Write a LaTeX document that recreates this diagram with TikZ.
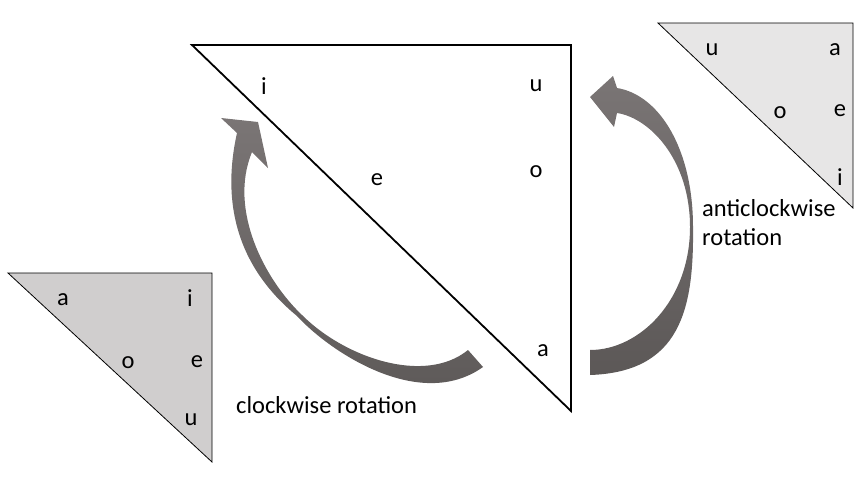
\documentclass[tikz,border=0pt]{standalone}
\usepackage{fontspec}
\setmainfont{Carlito}
\definecolor{lgray}{HTML}{D0CECE}
\definecolor{rgray}{HTML}{E7E6E6}
\definecolor{arrlight}{HTML}{7A7575}
\definecolor{arrdark}{HTML}{5C5857}
\tikzset{
  lbl/.style={font=\fontsize{24.5}{29}\selectfont, inner sep=0pt},
  maintri/.style={draw=black, line width=1.8pt, line join=miter},
  smalltri/.style={draw=black, line width=0.8pt},
  bigarrow/.style={top color=arrlight, bottom color=arrdark, draw=none}
}
\begin{document}
\begin{tikzpicture}[x=1pt,y=-1pt]
\useasboundingbox (0,0) rectangle (867,477);
% main triangle
\coordinate (M1) at (192,45);
\coordinate (M2) at (571,45);
\coordinate (M3) at (571,411);
\draw[maintri] (M1) -- (M2) -- (M3) -- cycle;
% left small triangle
\coordinate (L1) at (8,273);
\coordinate (L2) at (212,273);
\coordinate (L3) at (212,462);
\fill[lgray] (L1) -- (L2) -- (L3) -- cycle;
\draw[smalltri] (L1) -- (L2) -- (L3) -- cycle;
% right small triangle
\coordinate (R1) at (658,23);
\coordinate (R2) at (853,23);
\coordinate (R3) at (853,208);
\fill[rgray] (R1) -- (R2) -- (R3) -- cycle;
\draw[smalltri] (R1) -- (R2) -- (R3) -- cycle;
% main letters
\node[lbl] (mi) at (264,86) {i};
\node[lbl] (mu) at (536,86) {u};
\node[lbl] (me) at (377,180) {e};
\node[lbl] (mo) at (536,172) {o};
\node[lbl] (ma) at (543,351) {a};
% left letters
\node[lbl] (la) at (63,300) {a};
\node[lbl] (li) at (190,298) {i};
\node[lbl] (lo) at (128,363) {o};
\node[lbl] (le) at (197,362) {e};
\node[lbl] (lu) at (191,420) {u};
% right letters
\node[lbl] (ru) at (712,50) {u};
\node[lbl] (ra) at (835,50) {a};
\node[lbl] (ro) at (780,113) {o};
\node[lbl] (re) at (840,111) {e};
\node[lbl] (ri) at (840,177) {i};
% left (clockwise) arrow
\shade[bigarrow]
  (468,350) .. controls (425,385) and (345,358) .. (302,315)
  .. controls (265,280) and (228,210) .. (252,152)
  -- (268,168) -- (258,122) -- (221,118) -- (237,133)
  .. controls (222,200) and (235,265) .. (297,316)
  .. controls (330,352) and (420,412) .. (483,367)
  -- cycle;
% right (anticlockwise) arrow
\shade[bigarrow]
  (590,350) .. controls (640,350) and (690,300) .. (690,227)
  .. controls (690,160) and (650,118) .. (617,113)
  -- (614,127) -- (590,97) -- (613,76) -- (617,88)
  .. controls (660,95) and (693,150) .. (693,227)
  .. controls (694,310) and (680,372) .. (590,375)
  -- cycle;
% captions
\node[lbl, anchor=base west] (cw) at (236,413) {clockwise rotation};
\node[lbl, anchor=west, align=left] (acw) at (702,223) {anticlockwise\\rotation};
\end{tikzpicture}
\end{document}
